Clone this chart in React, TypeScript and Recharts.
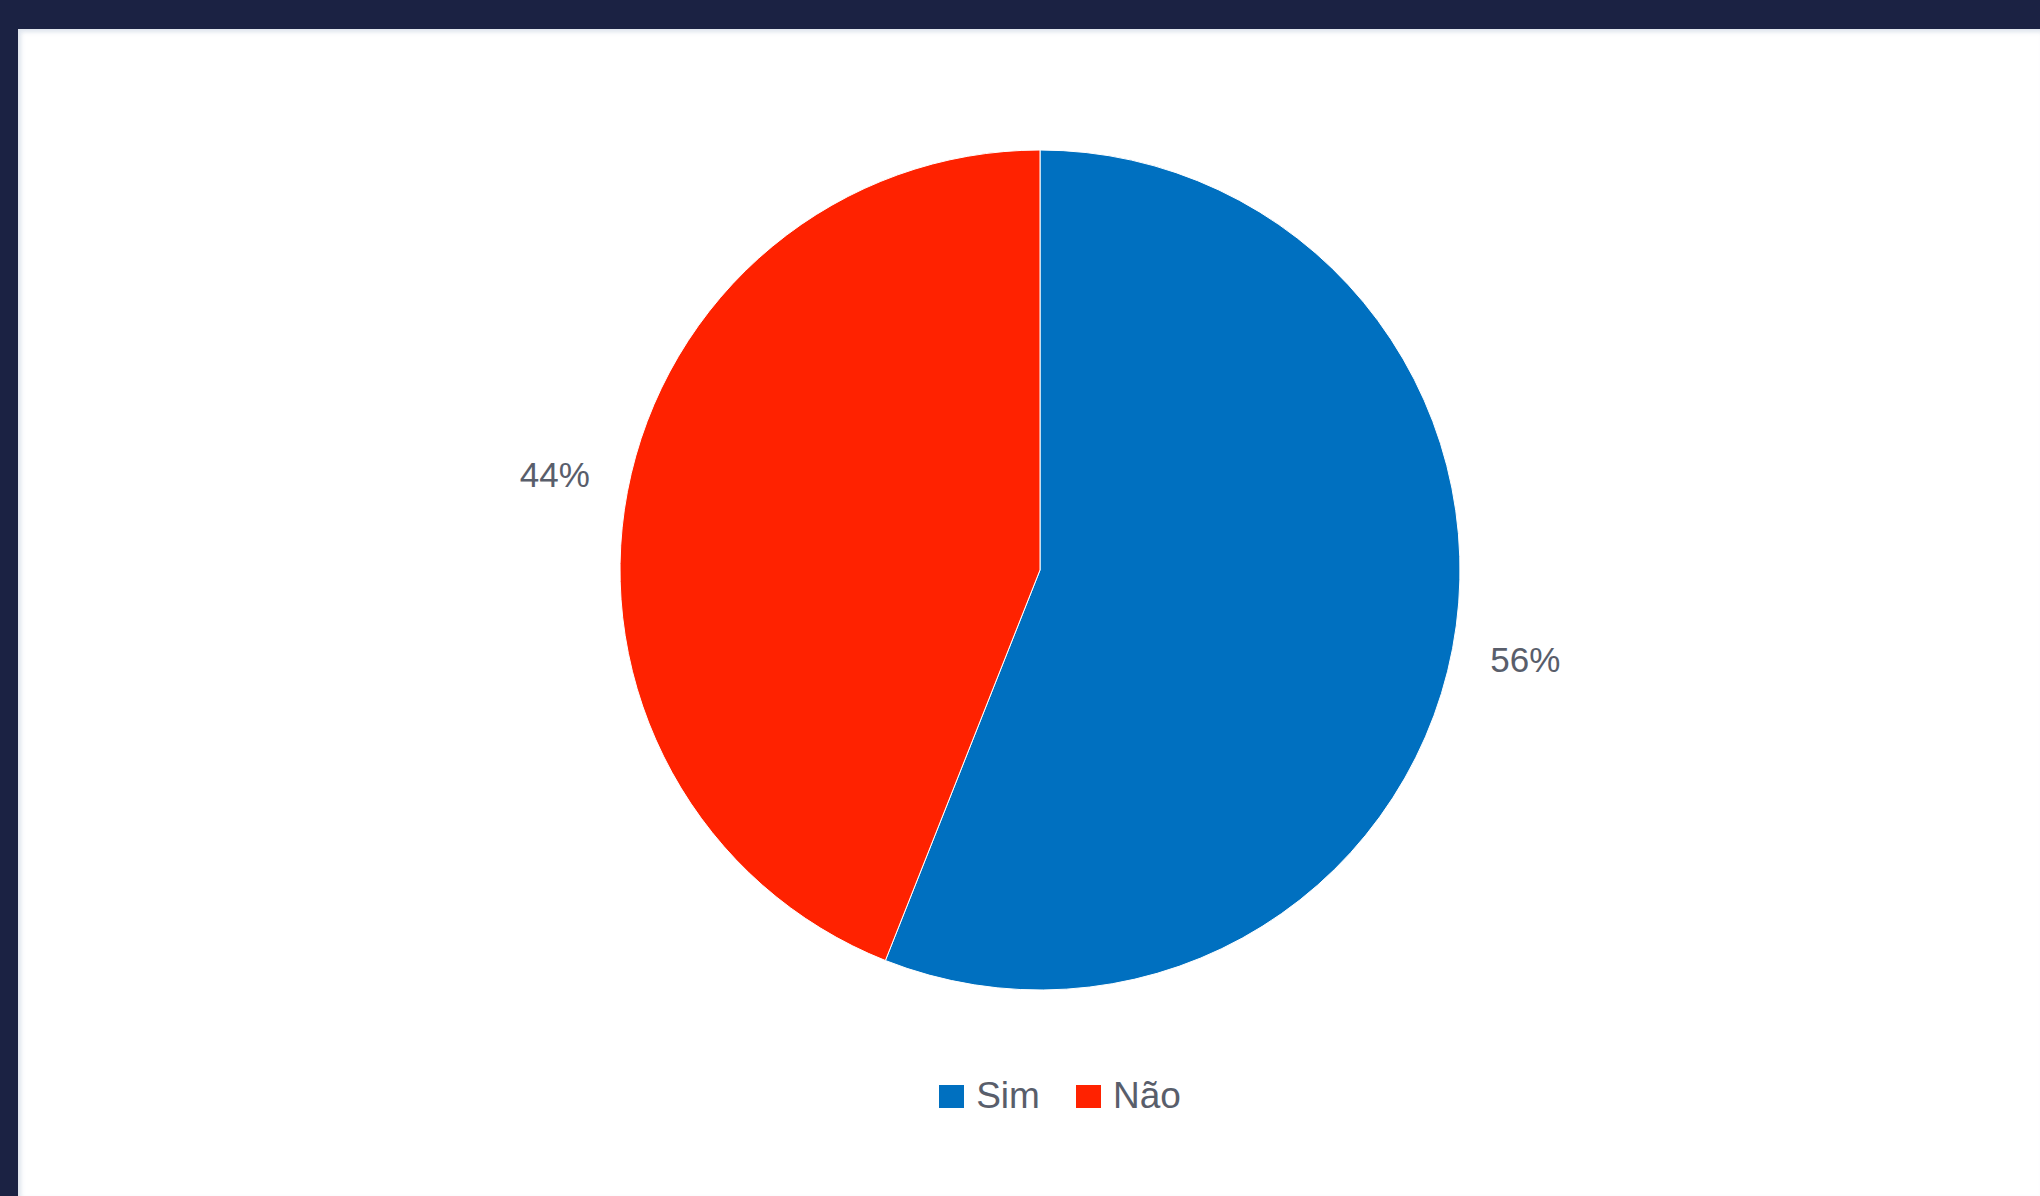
import React from "react";
import { PieChart, Pie, Cell, Legend } from "recharts";

const categories = ["Sim", "Não"];
const values = [56, 44];
const colors = ["#0070C0", "#FF2200"];

const data = categories.map((name, i) => ({ name, value: values[i] }));

const RADIAN = Math.PI / 180;

const renderLabel = (props: any) => {
  const { cx, cy, midAngle, percent } = props;
  const r = 494;
  const x = cx + r * Math.cos(-midAngle * RADIAN);
  const y = cy + r * Math.sin(-midAngle * RADIAN) - 3;
  return (
    <text
      x={x}
      y={y}
      fill="#595E6B"
      fontSize={35}
      fontFamily="'Liberation Sans', Arial, sans-serif"
      textAnchor="middle"
      dominantBaseline="central"
    >
      {`${Math.round(percent * 100)}%`}
    </text>
  );
};

const renderLegend = () => (
  <div
    style={{
      display: "flex",
      justifyContent: "center",
      alignItems: "center",
      fontFamily: "'Liberation Sans', Arial, sans-serif",
      fontSize: 37,
      color: "#595E6B",
      paddingLeft: 80,
    }}
  >
    {categories.map((c, i) => (
      <div
        key={c}
        style={{ display: "flex", alignItems: "center", marginRight: i === 0 ? 36 : 0 }}
      >
        <div style={{ width: 25, height: 23, background: colors[i], marginRight: 12 }} />
        <span>{c}</span>
      </div>
    ))}
  </div>
);

export default function App() {
  return (
    <div
      style={{
        position: "absolute",
        top: 0,
        left: 0,
        width: 2040,
        height: 1196,
        background: "#1B2243",
        overflow: "hidden",
      }}
    >
      <div
        style={{
          position: "absolute",
          top: 29,
          left: 18,
          width: 2022,
          height: 1167,
          background: "#FFFFFF",
          boxShadow: "inset 3px 3px 4px rgba(200,210,225,0.6)",
        }}
      />
      <div style={{ position: "absolute", top: 0, left: 0 }}>
        <PieChart width={2040} height={1196} margin={{ top: 0, right: 0, bottom: 0, left: 0 }}>
          <Pie
            data={data}
            dataKey="value"
            nameKey="name"
            cx={1040}
            cy={570}
            outerRadius={420}
            startAngle={90}
            endAngle={-270}
            stroke="#FFFFFF"
            strokeWidth={1}
            label={renderLabel}
            labelLine={false}
            isAnimationActive={false}
          >
            {data.map((d, i) => (
              <Cell key={d.name} fill={colors[i]} />
            ))}
          </Pie>
          <Legend
            content={renderLegend}
            wrapperStyle={{ top: 1075, left: 0, width: 2040 }}
          />
        </PieChart>
      </div>
    </div>
  );
}
